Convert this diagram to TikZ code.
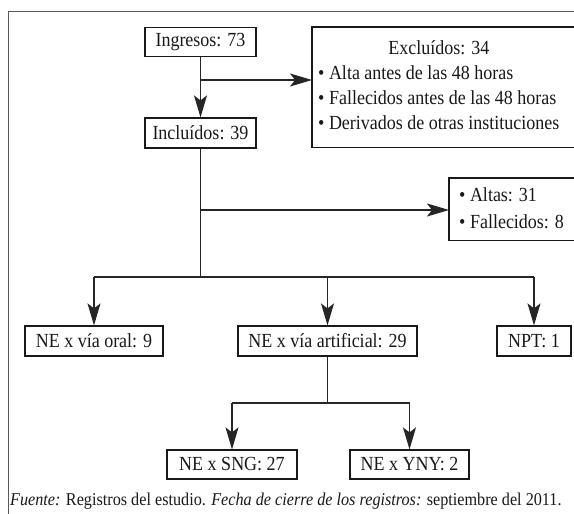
\documentclass[tikz,border=0pt]{standalone}
\usepackage{fontspec}
\setmainfont[FakeStretch=0.9]{Liberation Serif}
\usetikzlibrary{arrows.meta}
\begin{document}
\begin{tikzpicture}[x=1pt,y=-1pt,
  box/.style={draw=black!90, line width=1.2pt, inner sep=0pt, minimum height=29pt,
    font=\fontsize{20}{25}\selectfont, text=black!90},
  listbox/.style={inner ysep=0pt, font=\fontsize{20}{25}\selectfont, text=black!90, anchor=north west},
  boxline/.style={draw=black!90, line width=1.2pt},
  con/.style={line width=1.2pt, draw=black!85},
  arr/.style={con, -{Stealth[length=22pt,width=13pt,inset=5pt]}},
  framec/.style={draw=black!65, line width=1.6pt}]
\useasboundingbox (0,0) rectangle (574,514);
\clip (0,0) rectangle (574,514);
\fill[white] (0,0) rectangle (574,514);
% frame
\draw[framec] (590,11.5) -- (8.5,11.5) -- (8.5,530);
% nodes
\node[box, minimum width=111pt] (ing) at (200.5,42) {Ingresos: 73};
\node[box, minimum width=111pt, minimum height=30pt] (inc) at (200.5,133) {Incluídos: 39};
\node[listbox, inner xsep=6pt, minimum height=120pt] (excl) at (312,27)
  {\begin{tabular}{@{}l@{}}\multicolumn{1}{@{}c@{}}{Excluídos: 34}\\
   • Alta antes de las 48 horas\\
   • Fallecidos antes de las 48 horas\\
   • Derivados de otras instituciones\end{tabular}};
\draw[boxline] (excl.north west) rectangle ([xshift=40pt]excl.south east);
\node[listbox, inner xsep=10pt, minimum height=62pt, font=\fontsize{20}{27}\selectfont] (alt) at (449,178)
  {\begin{tabular}{@{}l@{}}• Altas: 31\\ • Fallecidos: 8\end{tabular}};
\draw[boxline] (alt.north west) rectangle ([xshift=80pt]alt.south east);
\node[box, minimum width=138pt, minimum height=30pt] (oral) at (94,341) {NE x vía oral: 9};
\node[box, minimum width=179pt, minimum height=30pt] (art) at (327.5,341) {NE x vía artificial: 29};
\node[box, minimum width=74pt, minimum height=30pt] (npt) at (534,341) {NPT: 1};
\node[box, minimum width=130pt] (sng) at (232,464.5) {NE x SNG: 27};
\node[box, minimum width=119pt] (yny) at (409.5,464.5) {NE x YNY: 2};
\node[anchor=west, inner sep=0pt, font=\fontsize{18}{20}\selectfont, text=black!90] (foot) at (10,501)
  {\textit{Fuente:} Registros del estudio. \textit{Fecha de cierre de los registros:} septiembre del 2011.};
% connectors
\coordinate (b1) at (200.5,80);
\coordinate (b2) at (200.5,210);
\coordinate (j1) at (200.5,277);
\coordinate (j2) at (327.5,403);
\draw[arr] (ing) -- (inc);
\draw[arr] (b1) -- (b1 -| excl.west);
\draw[con] (inc) -- (j1);
\draw[arr] (b2) -- (b2 -| alt.west);
\draw[con] (oral.north |- j1) -- (npt.north |- j1);
\draw[arr] (oral.north |- j1) -- (oral);
\draw[arr] (art.north |- j1) -- (art);
\draw[arr] (npt.north |- j1) -- (npt);
\draw[con] (art) -- (j2);
\draw[con] (sng.north |- j2) -- (yny.north |- j2);
\draw[arr] (sng.north |- j2) -- (sng);
\draw[arr] (yny.north |- j2) -- (yny);
\end{tikzpicture}
\end{document}
